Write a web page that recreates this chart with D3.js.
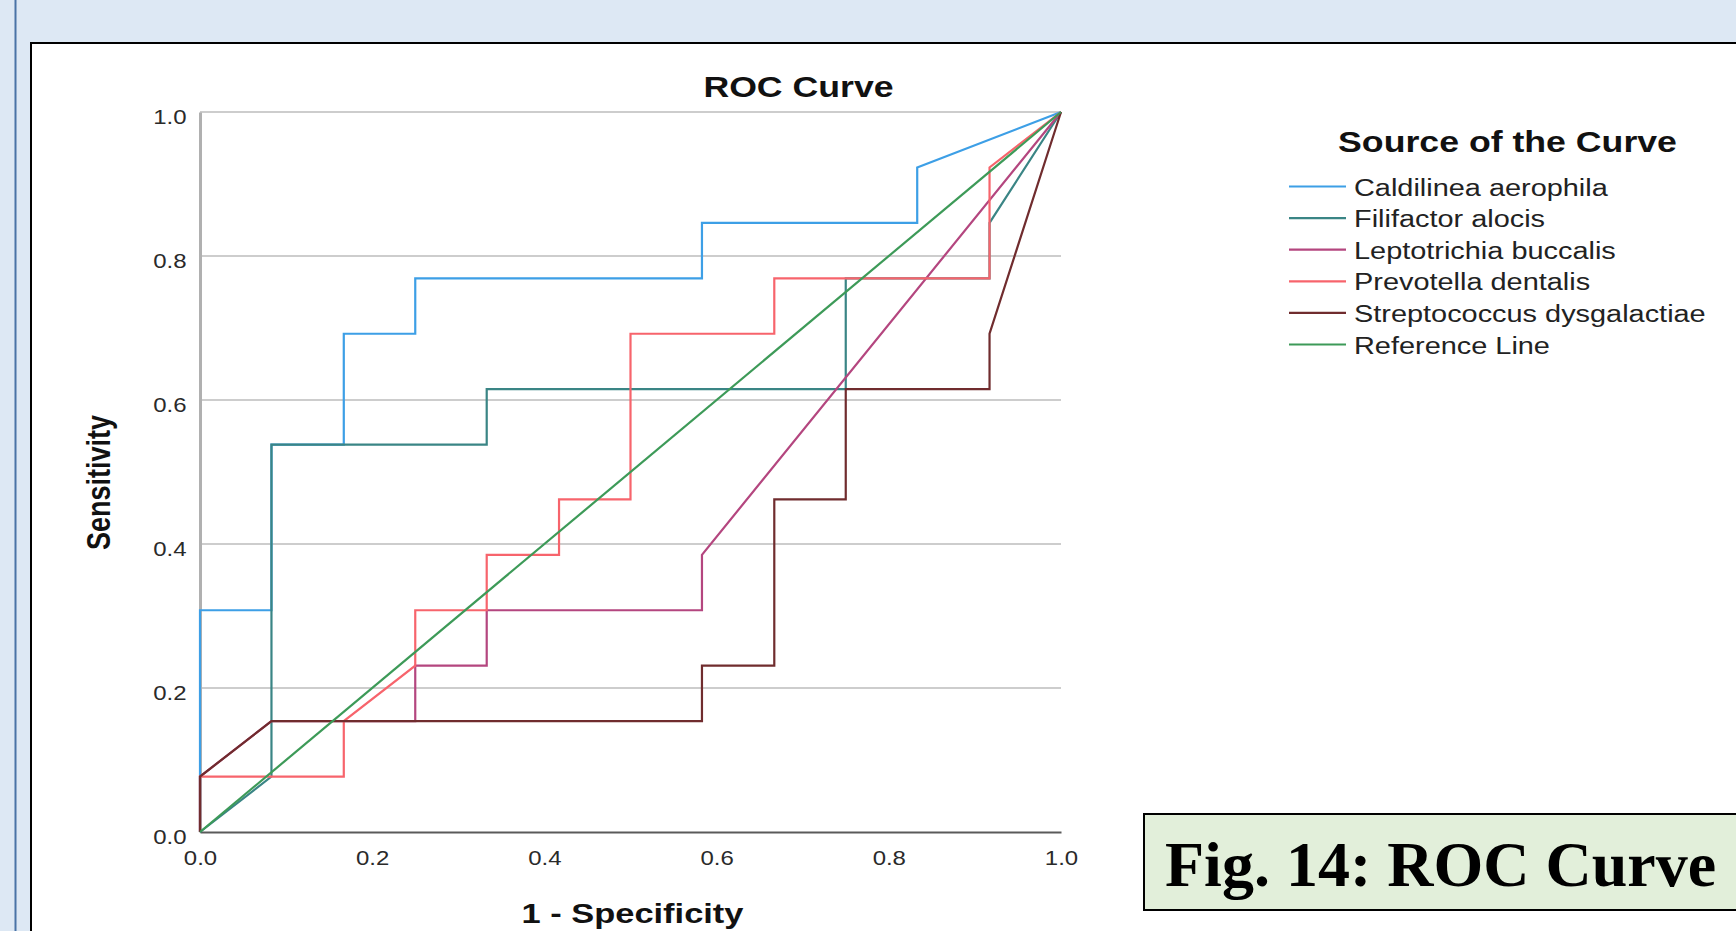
<!DOCTYPE html>
<html>
<head>
<meta charset="utf-8">
<script src="https://cdn.jsdelivr.net/npm/d3@7"></script>
<style>
  html, body { margin: 0; padding: 0; background: #dde8f4; overflow: hidden; }
  text { font-family: "Liberation Sans", Arial, sans-serif; }
</style>
</head>
<body>
<div class="roc"></div>
<script>
// ROC points (1 - specificity, sensitivity)
var seriesNames = ["Caldilinea aerophila", "Filifactor alocis", "Leptotrichia buccalis",
                   "Prevotella dentalis", "Streptococcus dysgalactiae", "Reference Line"];

var caldilineaFpr = [0, 0, 0.083, 0.083, 0.167, 0.167, 0.25, 0.25, 0.583, 0.583, 0.833, 0.833, 1];
var caldilineaTpr = [0, 0.308, 0.308, 0.538, 0.538, 0.692, 0.692, 0.769, 0.769, 0.846, 0.846, 0.923, 1];

var filifactorFpr = [0, 0.083, 0.083, 0.333, 0.333, 0.75, 0.75, 0.917, 0.917, 1];
var filifactorTpr = [0, 0.077, 0.538, 0.538, 0.615, 0.615, 0.769, 0.769, 0.846, 1];

var leptotrichiaFpr = [0, 0, 0.083, 0.25, 0.25, 0.333, 0.333, 0.583, 0.583, 1];
var leptotrichiaTpr = [0, 0.077, 0.154, 0.154, 0.231, 0.231, 0.308, 0.308, 0.385, 1];

var prevotellaFpr = [0, 0, 0.167, 0.167, 0.25, 0.25, 0.333, 0.333, 0.417, 0.417, 0.5, 0.5, 0.667, 0.667, 0.917, 0.917, 1];
var prevotellaTpr = [0, 0.077, 0.077, 0.154, 0.231, 0.308, 0.308, 0.385, 0.385, 0.462, 0.462, 0.692, 0.692, 0.769, 0.769, 0.923, 1];

var streptococcusFpr = [0, 0, 0.083, 0.583, 0.583, 0.667, 0.667, 0.75, 0.75, 0.917, 0.917, 1];
var streptococcusTpr = [0, 0.077, 0.154, 0.154, 0.231, 0.231, 0.462, 0.462, 0.615, 0.615, 0.692, 1];

var referenceFpr = [0, 1];
var referenceTpr = [0, 1];

var tickValues = [0, 0.2, 0.4, 0.6, 0.8, 1.0];
var seriesColors = ["#3d9fe6", "#3a8585", "#b4467f", "#f7646c", "#702c2e", "#3d9a58"];

var W = 1736, H = 931;
var sx = 1.23; // text in the picture is stretched sideways

var svg = d3.select("div.roc").append("svg")
  .attr("width", W).attr("height", H);

// page + panel
svg.append("rect").attr("width", W).attr("height", H).attr("fill", "#dde8f4");
svg.append("line").attr("x1", 15.5).attr("x2", 15.5).attr("y1", 0).attr("y2", H)
  .attr("stroke", "#4a73a6").attr("stroke-width", 2);
svg.append("rect").attr("x", 31).attr("y", 43).attr("width", 1800).attr("height", 1000)
  .attr("fill", "#fff").attr("stroke", "#000").attr("stroke-width", 2);

var x = d3.scaleLinear().domain([0, 1]).range([200, 1061]);
var y = d3.scaleLinear().domain([0, 1]).range([832, 112]);

// gridlines
svg.append("g").selectAll("line")
  .data(tickValues.filter(function (d) { return d > 0; }))
  .enter().append("line")
  .attr("x1", x(0)).attr("x2", x(1))
  .attr("y1", function (d) { return y(d); }).attr("y2", function (d) { return y(d); })
  .attr("stroke", "#cdcdcd").attr("stroke-width", 2);

// axes
var yAxis = svg.append("g").attr("transform", "translate(" + x(0) + ",0)")
  .call(d3.axisLeft(y).tickValues(tickValues).tickFormat(d3.format(".1f")).tickSize(0));
yAxis.select(".domain").attr("stroke", "#b0b0b0").attr("stroke-width", 3);
yAxis.selectAll("text")
  .attr("x", -13.5 / sx).attr("dy", null).attr("y", 11)
  .attr("transform", "scale(" + sx + ",1)")
  .style("font-size", "19.5px").style("fill", "#2a2a2a")
  .style("font-family", "Liberation Sans, Arial, sans-serif");

var xAxis = svg.append("g").attr("transform", "translate(0," + y(0) + ")")
  .call(d3.axisBottom(x).tickValues(tickValues).tickFormat(d3.format(".1f")).tickSize(0));
xAxis.select(".domain").attr("stroke", "#5a5a5a").attr("stroke-width", 2);
xAxis.selectAll("text")
  .attr("y", 33).attr("dy", null)
  .attr("transform", "scale(" + sx + ",1)")
  .style("font-size", "19.5px").style("fill", "#2a2a2a")
  .style("font-family", "Liberation Sans, Arial, sans-serif");
// keep x tick labels centred on their ticks after the stretch
xAxis.selectAll(".tick text").attr("x", 0);

// curves
var curves = [
  d3.zip(caldilineaFpr, caldilineaTpr),
  d3.zip(filifactorFpr, filifactorTpr),
  d3.zip(leptotrichiaFpr, leptotrichiaTpr),
  d3.zip(prevotellaFpr, prevotellaTpr),
  d3.zip(streptococcusFpr, streptococcusTpr),
  d3.zip(referenceFpr, referenceTpr)
];
var line = d3.line()
  .x(function (d) { return x(d[0]); })
  .y(function (d) { return y(d[1]); });

svg.append("g").selectAll("path")
  .data(curves).enter().append("path")
  .attr("d", line)
  .attr("fill", "none")
  .attr("stroke", function (d, i) { return seriesColors[i]; })
  .attr("stroke-width", 2.2)
  .attr("stroke-linejoin", "miter");

// titles
function stretched(px, py, str, size, weight, anchor) {
  return svg.append("text")
    .attr("transform", "translate(" + px + "," + py + ") scale(" + sx + ",1)")
    .attr("text-anchor", anchor)
    .style("font-size", size + "px").style("font-weight", weight)
    .style("fill", "#111")
    .text(str);
}
stretched(798.5, 96.5, "ROC Curve", 29, "bold", "middle");
stretched(632.5, 923, "1 - Specificity", 28, "bold", "middle");
svg.append("text")
  .attr("transform", "translate(110,482.5) scale(" + sx + ",1) rotate(-90)")
  .attr("text-anchor", "middle")
  .style("font-size", "27px").style("font-weight", "bold").style("fill", "#111")
  .text("Sensitivity");

// legend
stretched(1507.5, 151.5, "Source of the Curve", 29, "bold", "middle");
var legend = svg.append("g").selectAll("g")
  .data(seriesNames).enter().append("g")
  .attr("transform", function (d, i) { return "translate(0," + (186.5 + i * 31.6) + ")"; });
legend.append("line")
  .attr("x1", 1289).attr("x2", 1346)
  .attr("stroke", function (d, i) { return seriesColors[i]; })
  .attr("stroke-width", 2.2);
legend.append("text")
  .attr("transform", "translate(1354,9) scale(" + sx + ",1)")
  .style("font-size", "23.5px").style("fill", "#222")
  .text(function (d) { return d; });

// figure caption box
svg.append("rect").attr("x", 1144).attr("y", 814).attr("width", 700).attr("height", 96)
  .attr("fill", "#e2efda").attr("stroke", "#000").attr("stroke-width", 2);
svg.append("text").attr("x", 1165).attr("y", 886)
  .style("font-family", "Liberation Serif, Times New Roman, serif")
  .style("font-size", "64px").style("font-weight", "bold").style("fill", "#000")
  .text("Fig. 14: ROC Curve");
</script>
</body>
</html>
